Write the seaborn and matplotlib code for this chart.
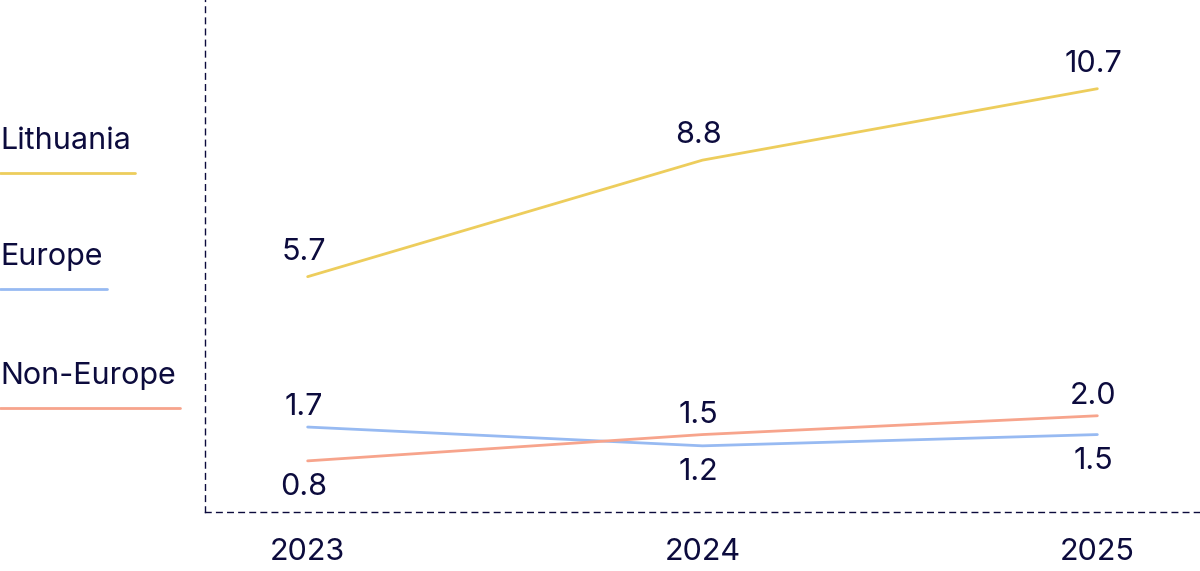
import pandas as pd
import matplotlib
matplotlib.use("Agg")
import matplotlib.pyplot as plt
import seaborn as sns
from matplotlib.lines import Line2D

years = [2023, 2024, 2025]
lithuania = [5.7, 8.8, 10.7]
europe = [1.7, 1.2, 1.5]
non_europe = [0.8, 1.5, 2.0]

series_names = ["Lithuania", "Europe", "Non-Europe"]
colors = {"Lithuania": "#EDCD5C", "Europe": "#97BAF2", "Non-Europe": "#F7A48C"}
ink = "#0C0B3D"
fs = 22

rows = []
for name, vals in zip(series_names, [lithuania, europe, non_europe]):
    for yr, v in zip(years, vals):
        rows.append({"Year": yr, "Value": v, "Series": name})
df = pd.DataFrame(rows)

sns.set_style("white")
plt.rcParams["font.family"] = ["Inter", "DejaVu Sans"]

fig = plt.figure(figsize=(12, 5.71), dpi=100)
ax = fig.add_axes([205 / 1200, 1 - 512 / 571, 1 - 205 / 1200, 512 / 571])

sns.lineplot(data=df, x="Year", y="Value", hue="Series", palette=colors,
             linewidth=2, legend=False, ax=ax)

ax.set_xlim(2022.74, 2025.26)
ax.set_ylim(-0.56, 13.06)

# value labels: Lithuania always above; of the two small series the higher gets above
for i, yr in enumerate(years):
    ax.annotate(f"{lithuania[i]:.1f}", (yr, lithuania[i]), xytext=(-3, 8),
                textcoords="offset points", ha="center", va="bottom",
                fontsize=fs, color=ink)
    e, n = europe[i], non_europe[i]
    hi, lo = (e, n) if e >= n else (n, e)
    ax.annotate(f"{hi:.1f}", (yr, hi), xytext=(-3, 4),
                textcoords="offset points", ha="center", va="bottom",
                fontsize=fs, color=ink)
    ax.annotate(f"{lo:.1f}", (yr, lo), xytext=(-3, -9),
                textcoords="offset points", ha="center", va="top",
                fontsize=fs, color=ink)

ax.set_xticks(years)
ax.set_xticklabels([str(y) for y in years], fontsize=fs, color=ink)
ax.set_yticks([])
ax.tick_params(axis="x", length=0, pad=19)
ax.set_xlabel("")
ax.set_ylabel("")

for side in ["top", "right"]:
    ax.spines[side].set_visible(False)
for side in ["left", "bottom"]:
    ax.spines[side].set_linestyle((0, (4, 4)))
    ax.spines[side].set_color(ink)
    ax.spines[side].set_linewidth(1)

# legend on the left: name with a line under it
legend_y = [141, 257, 376]
fig.canvas.draw()
renderer = fig.canvas.get_renderer()
for name, ty in zip(series_names, legend_y):
    t = fig.text(0, 1 - ty / 571, name, fontsize=fs, color=ink,
                 ha="left", va="center")
    bb = t.get_window_extent(renderer=renderer)
    width = bb.x1 / 1200 + 4 / 1200
    ly = 1 - (ty + 32) / 571
    fig.add_artist(Line2D([0, width], [ly, ly], color=colors[name],
                          linewidth=2, transform=fig.transFigure))

fig.savefig("out.png", dpi=100)
